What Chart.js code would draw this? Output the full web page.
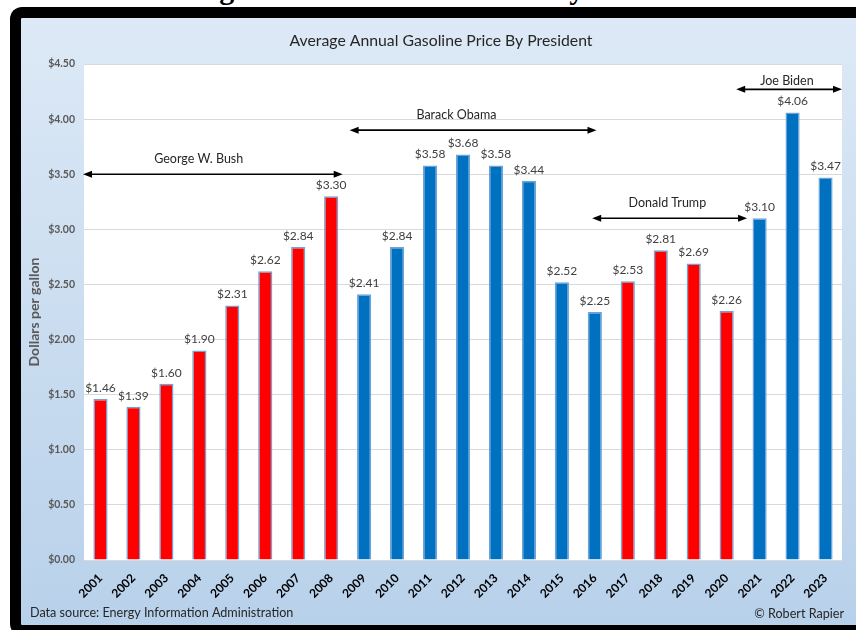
<!DOCTYPE html>
<html>
<head>
<meta charset="utf-8">
<script src="https://cdn.jsdelivr.net/npm/chart.js@4.4.0/dist/chart.umd.min.js"></script>
<style>
  html, body { margin: 0; padding: 0; background: #fff; overflow: hidden; }
  body { width: 856px; height: 630px; position: relative; }
  #heading {
    position: absolute; left: 0; width: 856px; top: -28px;
    text-align: center; font: bold 30px "Liberation Serif", "DejaVu Serif", serif; color: #000;
    white-space: nowrap;
  }
  #frame {
    position: absolute; left: 10px; top: 7px; width: 846px; height: 629px;
    box-sizing: border-box; border: 11px solid #000; border-right: none;
    border-radius: 12px 0 0 12px;
    background: linear-gradient(#dde9f6, #b8d1ea);
    overflow: hidden;
  }
  #wrap { position: absolute; left: 0; top: 0; width: 835px; height: 607px; }
</style>
</head>
<body>
<div id="heading">Average Annual Gasoline Price By President</div>
<div id="frame">
  <div id="wrap"><canvas id="gas"></canvas></div>
</div>
<script>
const years = ["2001","2002","2003","2004","2005","2006","2007","2008","2009","2010","2011","2012",
               "2013","2014","2015","2016","2017","2018","2019","2020","2021","2022","2023"];
const prices = [1.46, 1.39, 1.60, 1.90, 2.31, 2.62, 2.84, 3.30, 2.41, 2.84, 3.58, 3.68,
                3.58, 3.44, 2.52, 2.25, 2.53, 2.81, 2.69, 2.26, 3.10, 4.06, 3.47];
const party = ["R","R","R","R","R","R","R","R","D","D","D","D",
               "D","D","D","D","R","R","R","R","D","D","D"];
const yTicks = [0, 0.5, 1, 1.5, 2, 2.5, 3, 3.5, 4, 4.5];

// president spans: label, from/to category index, y level (dollars)
const terms = [
  { name: "George W. Bush", from: -0.53, to: 7.35, y: 3.50, labelX: 2.98, labelY: 3.64 },
  { name: "Barack Obama",   from: 7.56,  to: 15.05, y: 3.90, labelX: 10.8, labelY: 4.04 },
  { name: "Donald Trump",   from: 14.92, to: 19.62, y: 3.10, labelX: 17.2, labelY: 3.24 },
  { name: "Joe Biden",      from: 19.29, to: 22.5,  y: 4.27, labelX: 20.83, labelY: 4.35 }
];

const FONT = "Lato, 'Open Sans', sans-serif";

const decor = {
  id: 'decor',
  beforeDraw(chart) {
    const { ctx, chartArea: a } = chart;
    ctx.save();
    ctx.fillStyle = '#ffffff';
    ctx.fillRect(a.left, a.top, a.right - a.left, a.bottom - a.top);
    ctx.restore();
  },
  afterDraw(chart) {
    const { ctx, scales: { x, y } } = chart;
    ctx.save();
    // title
    ctx.fillStyle = '#262626';
    ctx.font = "15.8px " + FONT;
    ctx.textAlign = 'center';
    ctx.textBaseline = 'middle';
    ctx.fillText("Average Annual Gasoline Price By President", 420, 23);

    // value labels
    ctx.font = "12px " + FONT;
    ctx.fillStyle = '#404040';
    ctx.textBaseline = 'bottom';
    chart.getDatasetMeta(0).data.forEach((bar, i) => {
      ctx.fillText('$' + prices[i].toFixed(2), bar.x, bar.y - 5);
    });

    // president arrows
    ctx.strokeStyle = '#000';
    ctx.fillStyle = '#000';
    ctx.lineWidth = 1.6;
    terms.forEach(t => {
      const x1 = x.getPixelForValue(t.from), x2 = x.getPixelForValue(t.to);
      const yy = y.getPixelForValue(t.y);
      ctx.beginPath();
      ctx.moveTo(x1 + 6, yy); ctx.lineTo(x2 - 6, yy); ctx.stroke();
      ctx.beginPath();
      ctx.moveTo(x1, yy); ctx.lineTo(x1 + 9, yy - 3.5); ctx.lineTo(x1 + 9, yy + 3.5); ctx.closePath(); ctx.fill();
      ctx.beginPath();
      ctx.moveTo(x2, yy); ctx.lineTo(x2 - 9, yy - 3.5); ctx.lineTo(x2 - 9, yy + 3.5); ctx.closePath(); ctx.fill();
    });
    ctx.font = "12.5px " + FONT;
    ctx.fillStyle = '#262626';
    ctx.textBaseline = 'middle';
    terms.forEach(t => {
      ctx.fillText(t.name, x.getPixelForValue(t.labelX), y.getPixelForValue(t.labelY));
    });

    // footer
    ctx.font = "12.6px " + FONT;
    ctx.fillStyle = '#262626';
    ctx.textAlign = 'left';
    ctx.fillText("Data source: Energy Information Administration", 9, 595);
    ctx.textAlign = 'right';
    ctx.fillText("\u00A9 Robert Rapier", 823, 596);
    ctx.restore();
  }
};

new Chart(document.getElementById('gas'), {
  type: 'bar',
  data: {
    labels: years,
    datasets: [{
      label: 'Average price',
      data: prices,
      backgroundColor: party.map(p => p === 'R' ? '#ff0000' : '#0070c0'),
      borderColor: '#6fa3d8',
      borderWidth: 1.5,
      categoryPercentage: 1,
      barPercentage: 0.43
    }]
  },
  options: {
    responsive: true,
    maintainAspectRatio: false,
    animation: false,
    layout: { padding: { top: 46, right: 14, left: 0, bottom: 0 } },
    plugins: { legend: { display: false }, tooltip: { enabled: false } },
    scales: {
      x: {
        grid: { display: false },
        border: { display: false },
        ticks: {
          color: '#000', maxRotation: 45, minRotation: 45, padding: 3,
          font: { family: FONT, size: 12, weight: 'bold' }
        },
        afterFit(s) { s.height = 65; }
      },
      y: {
        min: 0, max: 4.5,
        afterBuildTicks(s) { s.ticks = yTicks.map(v => ({ value: v })); },
        grid: { color: '#d9d9d9', drawTicks: false },
        border: { display: false },
        ticks: {
          color: '#595959', padding: 9,
          font: { family: FONT, size: 10.5, weight: 'bold' },
          callback: v => '$' + Number(v).toFixed(2)
        },
        title: {
          display: true, text: 'Dollars per gallon', color: '#595959',
          font: { family: FONT, size: 14, weight: 'bold' },
          padding: { top: 5, bottom: 0 }
        },
        afterFit(s) { s.width = 63; }
      }
    }
  },
  plugins: [decor]
});
</script>
</body>
</html>
